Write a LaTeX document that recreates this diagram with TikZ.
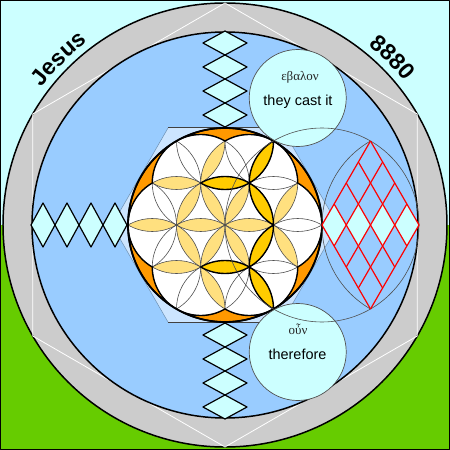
\documentclass[tikz,border=0pt]{standalone}
\usepackage{fontspec}
\setmainfont{Liberation Serif}
\setsansfont{Liberation Sans}
\usetikzlibrary{decorations.text}
\definecolor{cyanbg}{HTML}{CCFFFF}
\definecolor{grassg}{HTML}{66CC00}
\definecolor{ringgray}{HTML}{CCCCCC}
\definecolor{discblue}{HTML}{99CCFF}
\definecolor{orng}{HTML}{FF9900}
\definecolor{darky}{HTML}{FFCC00}
\definecolor{lighty}{HTML}{FFE07F}
\definecolor{hexfill}{HTML}{CCE5FF}
\definecolor{thing}{HTML}{505050}
\newcommand\rr{48.5}
\newcommand\bigsans{\sffamily\bfseries\fontsize{23}{23}\selectfont}
\newcommand\petal[3]{\path[#1] (#2) arc[start angle={#3-120}, end angle={#3-60}, radius=\rr] arc[start angle={#3+60}, end angle={#3+120}, radius=\rr] -- cycle;}
\begin{document}
\begin{tikzpicture}[scale=0.0352778, line join=round,
  thinc/.style={draw=thing, line width=0.6pt},
  dia/.style={fill=cyanbg, draw=black, line width=1.2pt},
  lightp/.style={fill=lighty},
  darkp/.style={fill=darky, draw=black, line width=1.4pt},
  redl/.style={draw=red, line width=1.2pt},
  txtcirc/.style={fill=cyanbg, draw=thing, line width=0.7pt}]
\useasboundingbox (-225,-225) rectangle (225,225);
\fill[cyanbg] (-225,0) rectangle (225,225);
\fill[grassg] (-225,-225) rectangle (225,0);
\draw[black, line width=1.2pt] (-224.4,-224.4) rectangle (224.4,224.4);
% ring
\draw[fill=ringgray, line width=1.5pt] (0,0) circle[radius=222];
\draw[white, line width=0.8pt] (90:222) -- (150:222) -- (210:222) -- (270:222) -- (330:222) -- (30:222) -- cycle;
\draw[fill=discblue, line width=1.5pt] (0,0) circle[radius=193];
% small hexagon
\fill[hexfill] (0:113) -- (60:113) -- (120:113) -- (180:113) -- (240:113) -- (300:113) -- cycle;
\draw[draw=discblue!70!black, line width=0.5pt] (60:113) -- (0:113) -- (300:113) (120:113) -- (180:113) -- (240:113);
\draw[black!75, line width=1.2pt] (60:113) -- (120:113) (240:113) -- (300:113);
% diamond chains
\foreach \c in {110,134,158,182} {
  \draw[dia] (0,\c+12) -- (22,\c) -- (0,\c-12) -- (-22,\c) -- cycle;
  \draw[dia] (0,-\c+12) -- (22,-\c) -- (0,-\c-12) -- (-22,-\c) -- cycle;
  \draw[dia] (-\c,22) -- (-\c+12,0) -- (-\c,-22) -- (-\c-12,0) -- cycle;
}
% lattice points
\coordinate (O) at (0,0);
\foreach \a in {0,60,...,300} {\coordinate (A\a) at (\a:\rr); \coordinate (B\a) at (\a:97);}
\foreach \a in {30,90,...,330} {\coordinate (C\a) at (\a:84.0045);}
% flower
\fill[white] (O) circle[radius=97];
\foreach \a in {0,60,...,300} {\petal{lightp}{O}{\a}}
\petal{lightp}{A180}{60}
\petal{lightp}{A180}{300}
\petal{lightp}{A120}{60}
\petal{lightp}{A240}{300}
\petal{lightp}{C150}{0}
\petal{lightp}{C210}{0}
\petal{lightp}{B180}{0}
\petal{lightp}{A0}{60}
\petal{lightp}{A0}{300}
\begin{scope}
\clip (O) circle[radius=97];
\foreach \p in {O,A0,A60,A120,A180,A240,A300,B0,B60,B120,B180,B240,B300,C30,C90,C150,C210,C270,C330}
  {\draw[thinc] (\p) circle[radius=\rr];}
\end{scope}
\petal{darkp}{A120}{0}
\petal{darkp}{A60}{60}
\petal{darkp}{A0}{120}
\petal{darkp}{A0}{240}
\petal{darkp}{A240}{0}
\petal{darkp}{A300}{300}
\foreach \k in {0,60,...,300} {
  \draw[fill=orng, line width=1.4pt] (\k:97) arc[start angle=\k, end angle=\k+60, radius=97]
    arc[start angle=\k+60, end angle=\k, radius=\rr] arc[start angle=\k+60, end angle=\k, radius=\rr] -- cycle;
}
\draw[line width=1.8pt] (O) circle[radius=97];
% text circles
\draw[txtcirc] (72.75,127) circle[radius=48.5];
\draw[txtcirc] (72.75,-127) circle[radius=48.5];
% lens
\draw[thinc] (B0) circle[radius=97];
\coordinate (RC) at (194,0);
\draw[thinc] (RC) ++(120:97) arc[start angle=120, end angle=240, radius=97];
% red lattice
\foreach \k in {0,...,3} {\fill[cyanbg] ({97+24.25*\k},0) -- ++(12.125,21) -- ++(12.125,-21) -- ++(-12.125,-21) -- cycle;}
\foreach \k in {0,...,4} {
  \draw[redl] ({97+12.125*\k},{21*\k}) -- ++(48.5,-84);
  \draw[redl] ({97+12.125*\k},{-21*\k}) -- ++(48.5,84);
}
% texts
\node[font=\rmfamily\fontsize{13}{15}\selectfont, text=black!85] (t1) at (75,148) {εβαλον};
\node[font=\sffamily\fontsize{14.5}{16}\selectfont] (t2) at (73,123) {they cast it};
\node[font=\rmfamily\fontsize{13}{15}\selectfont, text=black!85] (t3) at (73,-104) {οὖν};
\node[font=\sffamily\fontsize{14.5}{16}\selectfont] (t4) at (72.5,-129) {therefore};
\path[decorate, decoration={text along path, text={|\bigsans|Jesus}, text align=center}]
  (157:229) arc[start angle=157, end angle=113, radius=229];
\path[decorate, decoration={text along path, text={|\bigsans|8880}, text align=center}]
  (67:230) arc[start angle=67, end angle=23, radius=230];
\end{tikzpicture}
\end{document}
